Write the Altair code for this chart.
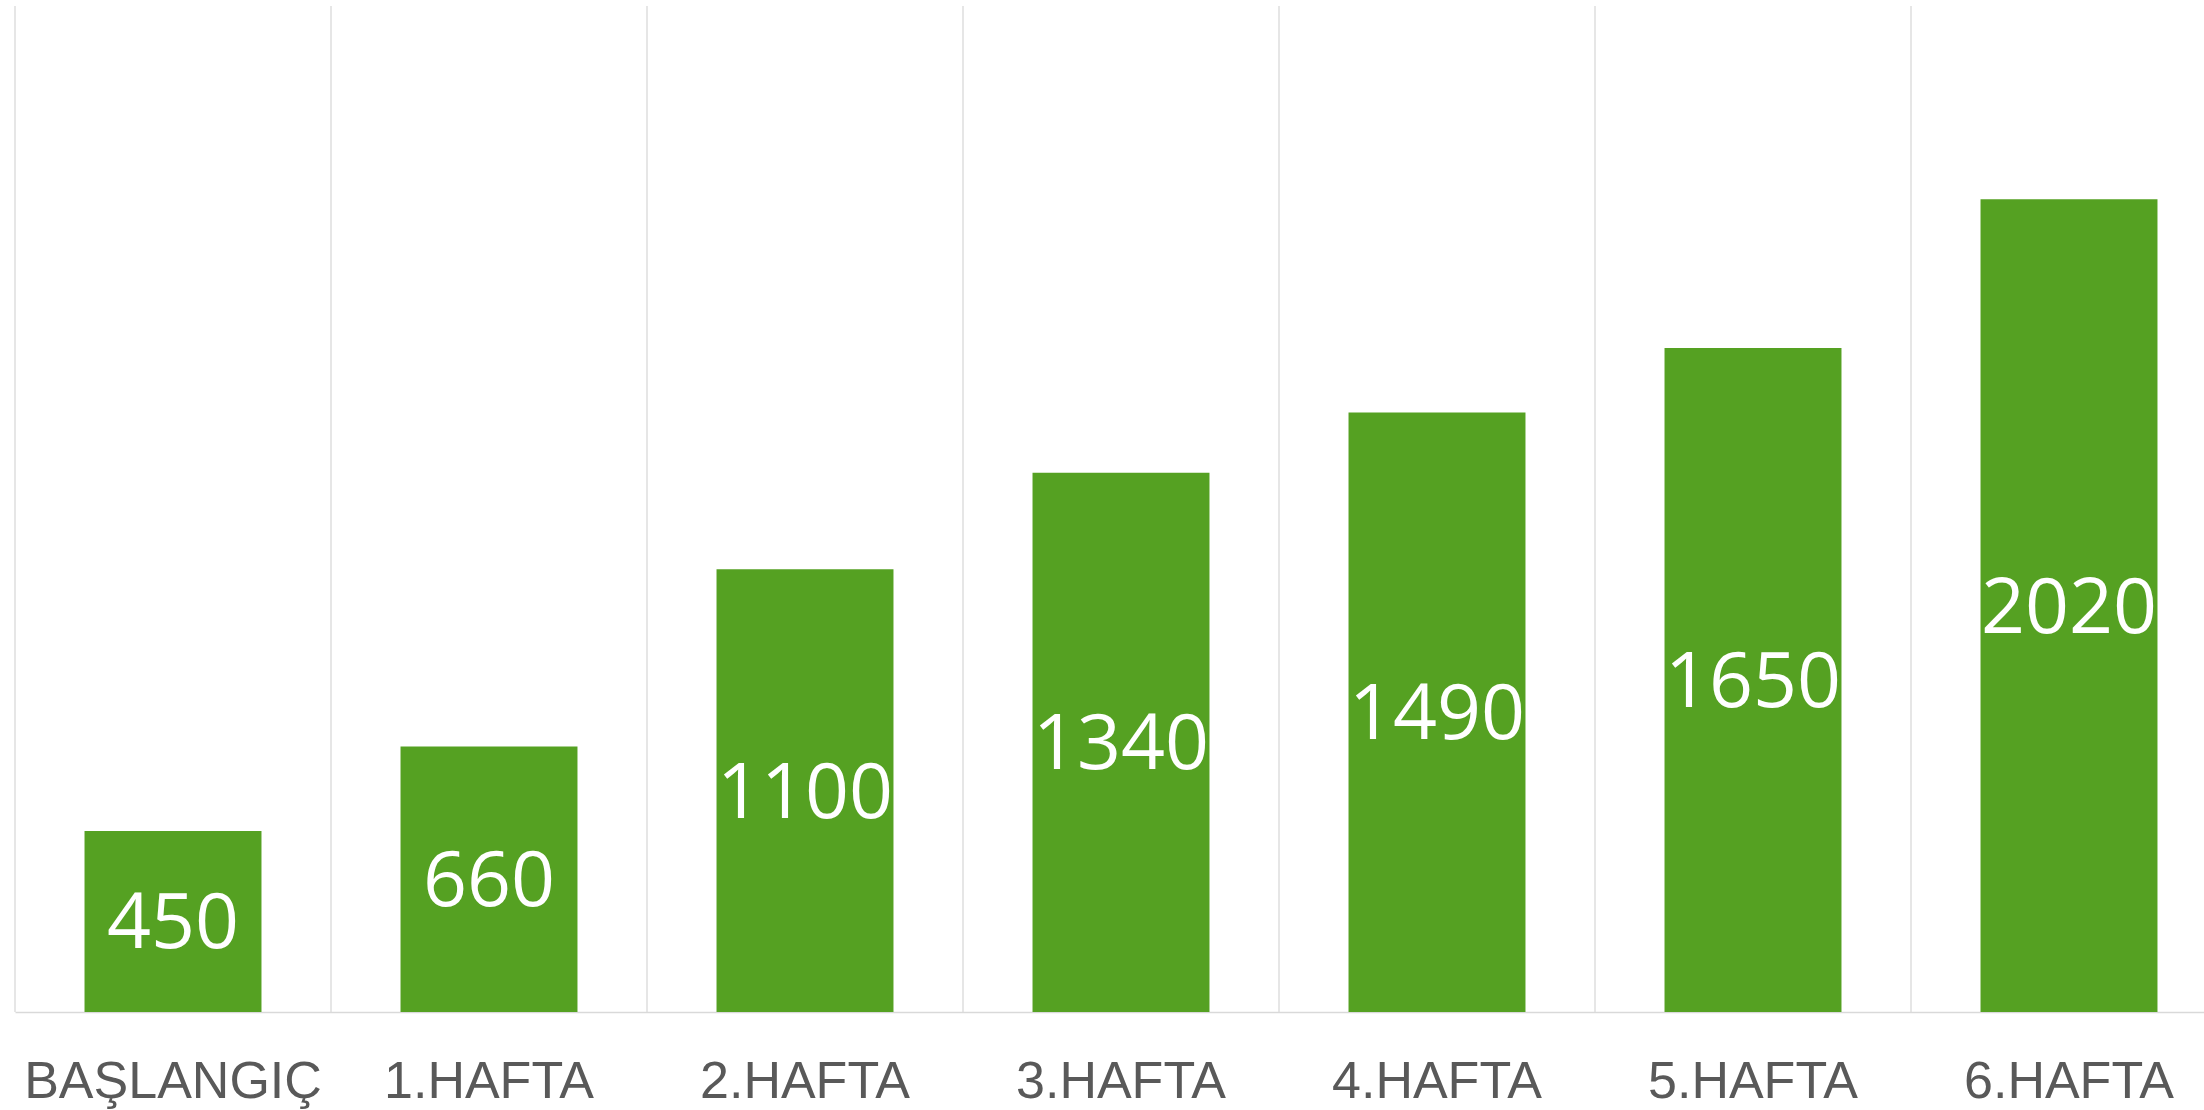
import altair as alt
import pandas as pd

categories = ["BAŞLANGIÇ", "1.HAFTA", "2.HAFTA", "3.HAFTA", "4.HAFTA", "5.HAFTA", "6.HAFTA"]
values = [450, 660, 1100, 1340, 1490, 1650, 2020]

df = pd.DataFrame({"cat": categories, "value": values})

GREEN = "#55A122"
GRID = "#D9D9D9"
W, H = 2189, 1006

xscale = alt.Scale(range=[0, 2212], paddingInner=0, paddingOuter=0)
yscale = alt.Scale(domain=[0, 2500], nice=False, zero=True)

xaxis = alt.Axis(
    title=None,
    grid=False,
    ticks=False,
    labelAngle=0,
    labelFont="Liberation Sans",
    labelFontSize=52,
    labelColor="#595959",
    labelPadding=85,
    labelBaseline="alphabetic",
    labelLimit=500,
    domainColor=GRID,
    domainWidth=1.5,
    bandPosition=0.5,
)

base = alt.Chart(df)

grid = base.mark_rule(color=GRID, strokeWidth=1.3).encode(
    x=alt.X("cat:N", sort=categories, scale=xscale, bandPosition=0, axis=xaxis),
    y=alt.value(0),
    y2=alt.value(H),
)

bars = base.mark_bar(color=GREEN, width=alt.RelativeBandSize(0.56)).encode(
    x=alt.X("cat:N", sort=categories, scale=xscale, axis=xaxis),
    y=alt.Y("value:Q", scale=yscale, axis=None),
)

labels = base.transform_calculate(mid="datum.value / 2").mark_text(
    color="white", font="Open Sans", fontSize=77, baseline="middle", align="center", dy=4
).encode(
    x=alt.X("cat:N", sort=categories, scale=xscale, axis=xaxis),
    y=alt.Y("mid:Q", scale=yscale, axis=None),
    text=alt.Text("value:Q"),
)

chart = (
    alt.layer(grid, bars, labels)
    .properties(
        width=W,
        height=H,
        padding={"left": 15, "top": 6, "right": 0, "bottom": 98},
        autosize=alt.AutoSizeParams(type="none"),
        background="white",
    )
    .configure_view(stroke=None)
)

chart.save("out.html", embed_options={"renderer": "svg", "actions": False})
